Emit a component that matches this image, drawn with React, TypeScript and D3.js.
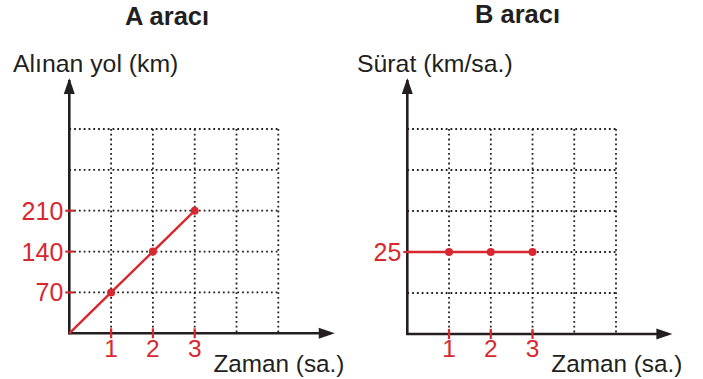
import * as d3 from 'd3';

// values
const hours = [0, 1, 2, 3];
const distanceA = [0, 70, 140, 210];
const speedB = [25, 25, 25, 25];
const xTicks = [1, 2, 3];
const yTicksA = [70, 140, 210];
const yTicksB = [25];
const gridSteps = [1, 2, 3, 4, 5];

const RED = '#d7282f';
const INK = '#231f20';
const FONT = '"Liberation Sans", Arial, Helvetica, sans-serif';

const W = 703;
const H = 379;

type PanelProps = {
  title: string;
  titleX: number;
  titleY: number;
  yLabel: string;
  yLabelX: number;
  x: d3.ScaleLinear<number, number>;
  y: d3.ScaleLinear<number, number>;
  yStep: number;
  yTicks: number[];
  values: number[];
  dotFrom: number;
};

const Arrow = ({ x, y, dir }: { x: number; y: number; dir: 'up' | 'right' }) => {
  const p =
    dir === 'up'
      ? `M${x},${y} L${x - 5.5},${y + 16} L${x + 5.5},${y + 16} Z`
      : `M${x},${y} L${x - 16},${y - 5.5} L${x - 16},${y + 5.5} Z`;
  return <path d={p} fill={INK} />;
};

const Panel = (p: PanelProps) => {
  const { x, y } = p;
  const x0 = x(0);
  const y0 = y(0);
  const xMax = x(5);
  const yMax = y(5 * p.yStep);
  const line = d3
    .line<number>()
    .x((_, i) => x(hours[i]))
    .y((d) => y(d));

  return (
    <g>
      <text
        x={p.titleX}
        y={p.titleY}
        fontFamily={FONT}
        fontWeight="bold"
        fontSize={25.5}
        fill={INK}
      >
        {p.title}
      </text>
      <text x={p.yLabelX} y={72} fontFamily={FONT} fontSize={24.8} fill={INK}>
        {p.yLabel}
      </text>

      {/* dotted grid */}
      {gridSteps.map((s) => (
        <line
          key={'h' + s}
          x1={x0}
          x2={xMax}
          y1={y(s * p.yStep)}
          y2={y(s * p.yStep)}
          stroke={INK}
          strokeWidth={1.8}
          strokeDasharray="1.8 3"
        />
      ))}
      {gridSteps.map((s) => (
        <line
          key={'v' + s}
          x1={x(s)}
          x2={x(s)}
          y1={yMax}
          y2={y0}
          stroke={INK}
          strokeWidth={1.8}
          strokeDasharray="1.8 3"
        />
      ))}

      {/* axes */}
      <line x1={x0} x2={x0} y1={y0 + 1} y2={80} stroke={INK} strokeWidth={2.6} />
      <line x1={x0 - 1} x2={x(6.35) - 4} y1={y0} y2={y0} stroke={INK} strokeWidth={2.6} />
      <Arrow x={x0} y={78} dir="up" />
      <Arrow x={x(6.35)} y={y0} dir="right" />

      {/* red ticks and labels */}
      {xTicks.map((t) => (
        <g key={'xt' + t}>
          <line x1={x(t)} x2={x(t)} y1={y0 - 5} y2={y0 + 5} stroke={RED} strokeWidth={2.2} />
          <text x={x(t)} y={357} textAnchor="middle" fontFamily={FONT} fontSize={24.5} fill={RED}>
            {t}
          </text>
        </g>
      ))}
      {p.yTicks.map((t) => (
        <g key={'yt' + t}>
          <line x1={x0 - 4} x2={x0 + 5} y1={y(t)} y2={y(t)} stroke={RED} strokeWidth={2.2} />
          <text
            x={x0 - 6}
            y={y(t) + 9}
            textAnchor="end"
            fontFamily={FONT}
            fontSize={25}
            fill={RED}
          >
            {t}
          </text>
        </g>
      ))}

      {/* data */}
      <path d={line(p.values) ?? ''} fill="none" stroke={RED} strokeWidth={2.4} />
      {p.values.slice(p.dotFrom).map((v, i) => (
        <circle key={'d' + i} cx={x(hours[i + p.dotFrom])} cy={y(v)} r={4} fill={RED} />
      ))}

      <text x={x(3.45)} y={372} fontFamily={FONT} fontSize={24.3} fill={INK}>
        Zaman (sa.)
      </text>
    </g>
  );
};

export default function App() {
  const xA = d3.scaleLinear().domain([0, 5]).range([69.3, 278.3]);
  const yA = d3.scaleLinear().domain([0, 350]).range([333.3, 129]);
  const xB = d3.scaleLinear().domain([0, 5]).range([407.3, 616]);
  const yB = d3.scaleLinear().domain([0, 62.5]).range([334, 129]);

  return (
    <svg
      width={W}
      height={H}
      style={{ position: 'absolute', left: 0, top: 0, background: '#fff' }}
    >
      <Panel
        title="A aracı"
        titleX={125}
        titleY={25}
        yLabel="Alınan yol (km)"
        yLabelX={13}
        x={xA}
        y={yA}
        yStep={70}
        yTicks={yTicksA}
        values={distanceA}
        dotFrom={1}
      />
      <Panel
        title="B aracı"
        titleX={475}
        titleY={23.3}
        yLabel="Sürat (km/sa.)"
        yLabelX={357}
        x={xB}
        y={yB}
        yStep={12.5}
        yTicks={yTicksB}
        values={speedB}
        dotFrom={1}
      />
    </svg>
  );
}
